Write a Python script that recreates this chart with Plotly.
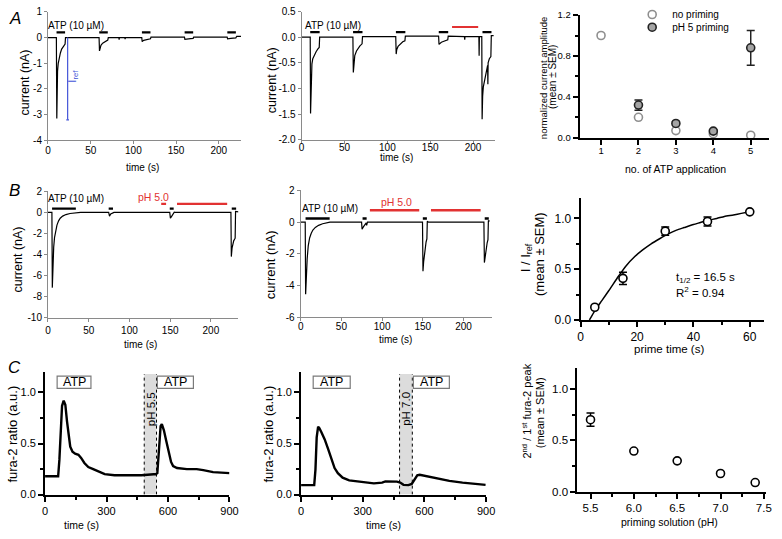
import plotly.graph_objects as go

W, H = 782, 539
FONT = "Liberation Sans"

# ---------------- DATA ----------------
# Panel A1: whole-cell current (nA) vs time (s)
a1_t = [0, 9.8, 10.3, 10.7, 11.2, 12, 13, 14.5, 16, 18, 20, 20.5, 22,
        59.8, 60.3, 61, 62, 64, 66, 68, 70, 70.6, 72,
        83, 83.3, 83.6, 90, 90.3, 90.6,
        109.8, 110.3, 112, 115, 118, 120, 120.6,
        159.8, 160.3, 163, 167, 170, 170.6,
        209.8, 210.3, 214, 218, 220, 221, 226]
a1_i = [0, 0, -3.15, -2.0, -1.3, -1.0, -0.8, -0.6, -0.45, -0.33, -0.25, 0, 0,
        0, -0.52, -0.38, -0.3, -0.22, -0.17, -0.13, -0.1, 0, 0,
        0, -0.08, 0, 0, -0.06, 0,
        0, -0.16, -0.11, -0.08, -0.06, -0.05, 0.02,
        0.02, -0.07, -0.05, -0.04, -0.03, 0.02,
        0.02, -0.05, -0.03, -0.02, -0.01, 0.05, 0.05]
a1_atp_on = [10, 60, 110, 160, 210]
a1_atp_off = [20, 70, 120, 170, 220]
a1_iref_t = 23

# Panel A2
a2_t = [0, 10.0, 10.4, 10.8, 11.3, 12, 13, 15, 17, 19, 20.5, 21, 22,
        59.8, 60.3, 61, 62, 64, 66, 68, 70.5, 71, 72,
        109.8, 110.3, 111, 112.5, 115, 118, 120.5, 121, 122,
        159.8, 160.3, 163, 166, 170.5, 171, 172,
        190, 190.3, 190.6, 206.8, 207.1, 207.4,
        210.2, 210.6, 211.2, 212, 214, 216, 217, 217.3, 217.6, 219, 220.8, 221.3, 224]
a2_i = [0, 0, -1.49, -1.0, -0.7, -0.52, -0.42, -0.34, -0.28, -0.23, -0.2, 0, 0,
        0, -0.69, -0.48, -0.36, -0.27, -0.21, -0.17, -0.13, 0.01, 0.01,
        0.01, -0.33, -0.24, -0.18, -0.13, -0.09, -0.07, 0.02, 0.02,
        0.02, -0.14, -0.1, -0.08, -0.05, 0.02, 0.02,
        0.01, -0.05, 0.01, 0.01, -0.36, 0.01,
        0.01, -1.6, -1.15, -0.97, -0.8, -0.62, -0.55, -0.92, -0.5, -0.42, -0.38, 0.03, 0.03]
a2_atp_on = [10, 60, 110, 160, 211]
a2_atp_off = [21, 71, 121, 171, 221.5]
a2_ph_on = [175.5]
a2_ph_off = [206]

# Panel A3
a3_app = [1, 2, 3, 4, 5]
a3_noprime = [1.0, 0.2, 0.07, 0.04, 0.025]
a3_prime_app = [2, 3, 4, 5]
a3_prime = [0.32, 0.14, 0.065, 0.88]
a3_prime_sem = [0.05, 0.02, 0.01, 0.17]

# Panel B1
b1_t = [0, 4.8, 5.3, 6, 7, 8, 9.5, 11, 13, 15, 18, 22, 27, 33, 40,
        74.5, 75.5, 77, 79.5, 80, 81,
        149.5, 150.3, 152, 154.5, 155, 156,
        224.6, 225.1, 226, 228, 229.8, 230.3, 234]
b1_i = [0, 0, -7.15, -4.8, -3.3, -2.4, -1.65, -1.2, -0.8, -0.55, -0.35, -0.2, -0.1, -0.03, 0,
        0, -0.35, -0.15, -0.05, 0.02, 0,
        0, -0.55, -0.35, -0.1, 0.02, 0,
        0, -4.2, -3.4, -2.7, -2.45, 0.1, 0.05]
b1_atp_on = [5, 74.5, 149.5, 225.6]
b1_atp_off = [34.2, 79.8, 154.3, 231]
b1_ph_on = [139, 158.4]
b1_ph_off = [145, 220]

# Panel B2
b2_t = [0, 5.6, 6.1, 7, 8, 9.3, 11, 13, 15, 18, 22, 27, 32, 36,
        74.8, 75.4, 77, 79, 80.5, 81, 81.5, 82,
        149.6, 150.2, 151, 152.5, 154, 155, 155.5, 157,
        225, 225.6, 227, 229, 230, 230.5, 232]
b2_i = [0, 0, -4.55, -3.2, -2.3, -1.5, -1.0, -0.7, -0.5, -0.33, -0.2, -0.1, -0.05, 0,
        0, -0.45, -0.3, -0.15, -0.05, -0.2, 0, 0,
        0, -3.1, -2.5, -1.7, -1.25, -1.05, 0.05, 0,
        0, -2.55, -1.9, -1.3, -1.1, 0.1, 0.05]
b2_atp_on = [6, 76, 150, 226]
b2_atp_off = [35.6, 81, 155, 231]
b2_ph_on = [85, 160]
b2_ph_off = [145.6, 221]

# Panel B3
b3_prime = [5, 15, 30, 45, 60]
b3_ratio = [0.125, 0.41, 0.875, 0.97, 1.065]
b3_sem = [0, 0.06, 0.04, 0.045, 0]
b3_fit_x = [3.1, 5, 7.5, 10, 13.4, 16, 19.2, 22, 25, 28, 30.9, 34, 36.7, 40, 42.5, 45, 48.3, 51, 54.2, 57, 60]
b3_fit_y = [0, 0.09, 0.19, 0.29, 0.43, 0.53, 0.625, 0.69, 0.75, 0.80, 0.845, 0.885, 0.91, 0.94, 0.96, 0.98, 1.0, 1.02, 1.035, 1.05, 1.065]

# Panel C1: fura-2 ratio
c1_t = [0, 64, 70, 77, 83, 91, 99, 107, 115, 123, 134, 147, 163, 176, 192, 211, 235, 259, 291, 339,
        400, 470, 530, 540, 548, 556, 564, 570, 580, 591, 604, 615, 625, 644, 692, 740, 772, 820, 900]
c1_r = [0.18, 0.18, 0.34, 0.66, 0.87, 0.92, 0.88, 0.72, 0.56, 0.47, 0.42, 0.40, 0.39, 0.36, 0.31, 0.27, 0.25, 0.23, 0.20, 0.19,
        0.19, 0.19, 0.2, 0.2, 0.21, 0.44, 0.67, 0.69, 0.63, 0.53, 0.42, 0.32, 0.28, 0.26, 0.25, 0.25, 0.24, 0.22, 0.21]
c1_atp_on = [59, 548]
c1_atp_off = [224, 724]
c1_prime_on = 484
c1_prime_off = 544

# Panel C2
c2_t = [0, 64, 70, 76, 83, 89, 99, 115, 131, 147, 163, 179, 202, 234, 290, 354, 394, 410, 466, 482,
        498, 522, 538, 553, 565, 577, 609, 657, 721, 785, 849, 897]
c2_r = [0.093, 0.093, 0.245, 0.56, 0.665, 0.65, 0.61, 0.54, 0.45, 0.36, 0.26, 0.21, 0.166, 0.14, 0.125, 0.11, 0.118, 0.13, 0.127, 0.118,
        0.096, 0.093, 0.105, 0.156, 0.188, 0.194, 0.18, 0.166, 0.134, 0.118, 0.108, 0.096]
c2_atp_on = [59, 546]
c2_atp_off = [239, 721]
c2_prime_on = 479
c2_prime_off = 541

# Panel C3
c3_ph = [5.5, 6.0, 6.5, 7.0, 7.4]
c3_ratio = [0.70, 0.395, 0.30, 0.177, 0.089]
c3_sem = [0.065, 0, 0, 0, 0]

# Tick labels
a1_yt = [-4, -3, -2, -1, 0, 1]; a1_yl = ["-4", "-3", "-2", "-1", "0", "1"]
a_xt = [0, 50, 100, 150, 200]; a_xl = ["0", "50", "100", "150", "200"]
a2_yt = [-2, -1.5, -1, -0.5, 0, 0.5]; a2_yl = ["-2.0", "-1.5", "-1.0", "-0.5", "0.0", "0.5"]
a3_xt = [1, 2, 3, 4, 5]; a3_xl = ["1", "2", "3", "4", "5"]
a3_yt = [0, 0.4, 0.8, 1.2]; a3_yl = ["0.0", "0.4", "0.8", "1.2"]
b1_yt = [-10, -8, -6, -4, -2, 0, 2]; b1_yl = ["-10", "-8", "-6", "-4", "-2", "0", "2"]
b2_yt = [-6, -4, -2, 0, 2]; b2_yl = ["-6", "-4", "-2", "0", "2"]
b3_xt = [0, 20, 40, 60]; b3_xl = ["0", "20", "40", "60"]
r_yt = [0, 0.5, 1.0]; r_yl = ["0.0", "0.5", "1.0"]
c_xt = [0, 300, 600, 900]; c_xl = ["0", "300", "600", "900"]
c3_xt = [5.5, 6.0, 6.5, 7.0, 7.5]; c3_xl = ["5.5", "6.0", "6.5", "7.0", "7.5"]

# ---------------- LAYOUT HELPERS ----------------
def dx(p0, p1):
    return [p0 / W, p1 / W]

def dy(top, bottom):
    return [1 - bottom / H, 1 - top / H]

def px(p):
    return p / W

def py(p):
    return 1 - p / H

fig = go.Figure()
layout = dict(width=W, height=H, margin=dict(l=0, r=0, t=0, b=0),
              paper_bgcolor="white", plot_bgcolor="white", showlegend=True,
              font=dict(family=FONT, color="black"))

GRAY = "#8a8a8a"

def axis_pair(n, xdom, ydom, xr, yr, xt, xl, yt, yl, style, fs,
              xminor=None, yminor=None, xstand=0, ystand=0):
    sfx = "" if n == 1 else str(n)
    if style == "gray":
        common = dict(showline=True, linecolor=GRAY, linewidth=1, ticks="outside",
                      ticklen=3, tickwidth=1, tickcolor=GRAY)
    else:
        common = dict(showline=True, linecolor="black", linewidth=2, ticks="outside",
                      ticklen=5, tickwidth=1.5, tickcolor="black")
    xa = dict(domain=xdom, range=xr, anchor="y" + sfx, tickmode="array",
              tickvals=xt, ticktext=xl, showgrid=False, zeroline=False,
              ticklabelstandoff=xstand,
              tickfont=dict(size=fs, family=FONT, color="black"), **common)
    ya = dict(domain=ydom, range=yr, anchor="x" + sfx, tickmode="array",
              tickvals=yt, ticktext=yl, showgrid=False, zeroline=False,
              ticklabelstandoff=ystand,
              tickfont=dict(size=fs, family=FONT, color="black"), **common)
    if xminor:
        xa["minor"] = dict(tickvals=xminor, ticks="outside", ticklen=3, tickwidth=1.5,
                           tickcolor="black", showgrid=False)
    if yminor:
        ya["minor"] = dict(tickvals=yminor, ticks="outside", ticklen=3, tickwidth=1.5,
                           tickcolor="black", showgrid=False)
    layout["xaxis" + sfx] = xa
    layout["yaxis" + sfx] = ya
    return "x" + sfx, "y" + sfx

ax = {}
ax[1] = axis_pair(1, dx(45.7, 241.7), dy(6, 137.7), [0, 226], [-4, 1], a_xt, a_xl, a1_yt, a1_yl, "gray", 10,
                  xstand=-2)
ax[2] = axis_pair(2, dx(303.3, 500), dy(5.7, 137), [0, 226], [-2, 0.5], a_xt, a_xl, a2_yt, a2_yl, "gray", 10,
                  xstand=-5)
ax[3] = axis_pair(3, dx(585.7, 778), dy(9.3, 135), [0.43, 5.49], [0, 1.2], a3_xt, a3_xl, a3_yt, a3_yl, "black", 9.5,
                  yminor=[0.2, 0.6, 1.0], xstand=-2)
ax[4] = axis_pair(4, dx(45.7, 239), dy(190, 319.3), [0, 233.7], [-10, 2], a_xt, a_xl, b1_yt, b1_yl, "gray", 10)
ax[5] = axis_pair(5, dx(302.3, 497), dy(189, 319), [0, 235.4], [-6, 2], a_xt, a_xl, b2_yt, b2_yl, "gray", 10,
                  xstand=-3)
ax[6] = axis_pair(6, dx(586.7, 773), dy(196.9, 321.7), [0, 65.1], [0, 1.2], b3_xt, b3_xl, r_yt, r_yl, "black", 12,
                  xminor=[10, 30, 50], yminor=[0.25, 0.75])
ax[7] = axis_pair(7, dx(42.7, 230), dy(375.1, 500.7), [0, 900], [0, 1.2], c_xt, c_xl, r_yt, r_yl, "black", 11,
                  xminor=[150, 450, 750], yminor=[0.25, 0.75])
ax[8] = axis_pair(8, dx(302.7, 490.7), dy(375.1, 500.7), [0, 900], [0, 1.2], c_xt, c_xl, r_yt, r_yl, "black", 11,
                  xminor=[150, 450, 750], yminor=[0.25, 0.75])
ax[9] = axis_pair(9, dx(583.3, 775), dy(371.2, 497.7), [5.348, 7.526], [0, 1.2], c3_xt, c3_xl, r_yt, r_yl, "black", 11.5,
                  xminor=[5.75, 6.25, 6.75, 7.25], yminor=[0.25, 0.75])

def trace(n, x, y, color="black", width=1.2, **kw):
    xa, ya = ax[n]
    fig.add_trace(go.Scatter(x=x, y=y, xaxis=xa, yaxis=ya, mode="lines",
                             line=dict(color=color, width=width, **kw),
                             showlegend=False, hoverinfo="skip", cliponaxis=False))

def bars(n, on, off, level, color="black", width=2.2):
    xs, ys = [], []
    for a, b in zip(on, off):
        xs += [a, b, None]
        ys += [level, level, None]
    trace(n, xs, ys, color=color, width=width)

RED = "#e23232"
BLUE = "#4556d8"

# A1
trace(1, a1_t, a1_i)
bars(1, a1_atp_on, a1_atp_off, 0.2)
amp = min(a1_i)
trace(1, [a1_iref_t, a1_iref_t, None, a1_iref_t - 1.6, a1_iref_t + 1.6],
      [0, amp - 0.05, None, amp - 0.05, amp - 0.05], color=BLUE, width=1.2)
# A2
trace(2, a2_t, a2_i)
bars(2, a2_atp_on, a2_atp_off, 0.1)
bars(2, a2_ph_on, a2_ph_off, 0.2, color=RED, width=2)
# A3
xa, ya = ax[3]
fig.add_trace(go.Scatter(x=a3_app, y=a3_noprime, xaxis=xa, yaxis=ya, mode="markers",
                         name="no priming", legend="legend",
                         marker=dict(symbol="circle", size=8, color="white",
                                     line=dict(color="#8f8f8f", width=1.6)),
                         cliponaxis=False, hoverinfo="skip"))
fig.add_trace(go.Scatter(x=a3_prime_app, y=a3_prime, xaxis=xa, yaxis=ya, mode="markers",
                         name="pH 5 priming", legend="legend2",
                         error_y=dict(type="data", array=a3_prime_sem, color="#222222",
                                      thickness=1.5, width=4),
                         marker=dict(symbol="circle", size=8, color="#a4a4a4",
                                     line=dict(color="#222222", width=1.6)),
                         cliponaxis=False, hoverinfo="skip"))
# B1
trace(4, b1_t, b1_i)
bars(4, b1_atp_on, b1_atp_off, 0.36, width=2.4)
bars(4, b1_ph_on, b1_ph_off, 0.82, color=RED, width=2.4)
# B2
trace(5, b2_t, b2_i)
bars(5, b2_atp_on, b2_atp_off, 0.23, width=2.4)
bars(5, b2_ph_on, b2_ph_off, 0.75, color=RED, width=2.4)
# B3
trace(6, b3_fit_x, b3_fit_y, width=1.5, shape="spline", smoothing=0.6)
xa, ya = ax[6]
fig.add_trace(go.Scatter(x=b3_prime, y=b3_ratio, xaxis=xa, yaxis=ya, mode="markers",
                         error_y=dict(type="data", array=b3_sem, color="black", thickness=1.5, width=4),
                         marker=dict(symbol="circle", size=8, color="white",
                                     line=dict(color="black", width=1.6)),
                         showlegend=False, cliponaxis=False, hoverinfo="skip"))
# C1, C2
shapes = []
annotations = []

def c_panel(n, t, r, atp_on, atp_off, p_on, p_off, ph_label):
    xa, ya = ax[n]
    shapes.append(dict(type="rect", xref=xa, yref=ya, x0=p_on, x1=p_off, y0=0, y1=1.18,
                       fillcolor="#dcdcdc", line=dict(width=0), layer="below"))
    for xv in (p_on, p_off):
        shapes.append(dict(type="line", xref=xa, yref=ya, x0=xv, x1=xv, y0=0, y1=1.18,
                           line=dict(color="black", width=1, dash="dot")))
    for a, b in zip(atp_on, atp_off):
        shapes.append(dict(type="rect", xref=xa, yref=ya, x0=a, x1=b, y0=1.04, y1=1.16,
                           fillcolor="white", line=dict(color="#7a7a7a", width=1.2)))
        annotations.append(dict(xref=xa, yref=ya, x=(a + b) / 2, y=1.10, text="ATP",
                                showarrow=False, font=dict(size=12.5, family=FONT, color="black"),
                                xanchor="center", yanchor="middle"))
    annotations.append(dict(xref=xa, yref=ya, x=(p_on + p_off) / 2, y=0.84, text=ph_label,
                            textangle=-90, showarrow=False,
                            font=dict(size=11.5, family=FONT, color="black"),
                            xanchor="center", yanchor="middle"))
    trace(n, t, r, width=2.4)

c_panel(7, c1_t, c1_r, c1_atp_on, c1_atp_off, c1_prime_on, c1_prime_off, "pH 5.5")
c_panel(8, c2_t, c2_r, c2_atp_on, c2_atp_off, c2_prime_on, c2_prime_off, "pH 7.0")
# C3
xa, ya = ax[9]
fig.add_trace(go.Scatter(x=c3_ph, y=c3_ratio, xaxis=xa, yaxis=ya, mode="markers",
                         error_y=dict(type="data", array=c3_sem, color="black", thickness=1.5, width=4),
                         marker=dict(symbol="circle", size=8, color="white",
                                     line=dict(color="black", width=1.6)),
                         showlegend=False, cliponaxis=False, hoverinfo="skip"))

# ---------------- TEXT ----------------
def txt(x, y, s, size=10, angle=0, color="black", xanchor="center", italic=False):
    annotations.append(dict(xref="paper", yref="paper", x=px(x), y=py(y), text=s,
                            textangle=angle, showarrow=False, xanchor=xanchor, yanchor="middle",
                            font=dict(size=size, family=FONT, color=color,
                                      style="italic" if italic else "normal")))

# panel letters
txt(12, 13, "A", 17, italic=True)
txt(12, 189, "B", 17, italic=True)
txt(12, 370, "C", 17, italic=True)
# A1
txt(74, 20, "ATP (10 µM)", 10)
txt(71.5, 72, "I<sub>ref</sub>", 11, angle=-90, color=BLUE)
txt(141.7, 165, "time (s)", 10)
txt(22.7, 78, "current (nA)", 12.5, angle=-90)
# A2
txt(335.5, 20.3, "ATP (10 µM)", 10)
txt(400, 155, "time (s)", 10)
txt(273.3, 76, "current (nA)", 12.5, angle=-90)
# A3
txt(548.3, 73, "normalized current amplitude", 9.5, angle=-90)
txt(558.3, 73, "(mean ± SEM)", 10, angle=-90)
txt(683.3, 166.7, "no. of ATP application", 10.5)
# B1
txt(74, 197.5, "ATP (10 µM)", 10)
txt(153.3, 196, "pH 5.0", 10.5, color=RED)
txt(140, 346.7, "time (s)", 10)
txt(15, 260, "current (nA)", 12.5, angle=-90)
# B2
txt(332.5, 207.5, "ATP (10 µM)", 10)
txt(400, 201, "pH 5.0", 10.5, color=RED)
txt(398.3, 342, "time (s)", 10)
txt(271.7, 265, "current (nA)", 13, angle=-90)
# B3
txt(531.7, 258, "I / I<sub>ref</sub>", 13, angle=-90)
txt(545.5, 254, "(mean ± SEM)", 13, angle=-90)
txt(676.7, 351.7, "prime time (s)", 11.5)
txt(681, 278.3, "t<sub>1/2</sub> = 16.5 s", 11.5, xanchor="left")
txt(681, 293, "R<sup>2</sup> = 0.94", 11.5, xanchor="left")
# C1, C2
txt(80, 531.7, "time (s)", 10.5)
txt(10, 438.3, "fura-2 ratio (a.u.)", 13, angle=-90)
txt(386.7, 531.7, "time (s)", 10.5)
txt(270, 438.3, "fura-2 ratio (a.u.)", 13, angle=-90)
# C3
txt(531.7, 415, "2<sup>nd</sup> / 1<sup>st</sup> fura-2 peak", 11, angle=-90)
txt(545, 416.7, "(mean ± SEM)", 11, angle=-90)
txt(676.7, 528.3, "priming solution (pH)", 10.5)

layout["shapes"] = shapes
layout["annotations"] = annotations
layout["legend"] = dict(x=px(639), y=py(8.3), xanchor="left", yanchor="middle",
                        bgcolor="rgba(0,0,0,0)", font=dict(size=10, family=FONT, color="black"))
layout["legend2"] = dict(x=px(639), y=py(21.7), xanchor="left", yanchor="middle",
                         bgcolor="rgba(0,0,0,0)", font=dict(size=10, family=FONT, color="black"))

fig.update_layout(**layout)
fig.write_html("out.html", config={"displayModeBar": False},
               post_script="document.body.style.margin='0px';document.body.style.overflow='hidden';")
